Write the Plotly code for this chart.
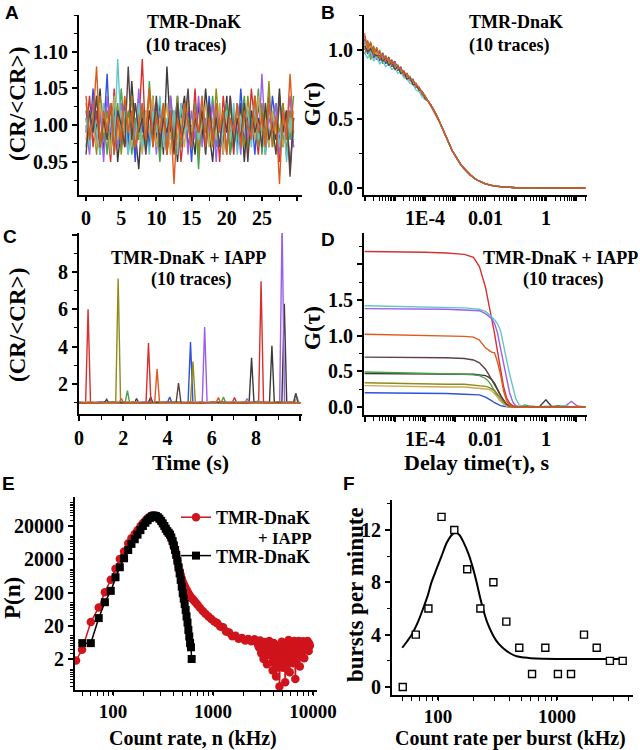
import plotly.graph_objects as go

# ---------------- data ----------------
TRACE_NAMES = ["dark", "red", "blue", "green", "purple", "olive", "gold", "cyan", "brown", "orange"]

# Panel A: normalised count rate, TMR-DnaK (10 traces)
A_time = [0.0,0.5,1.0,1.5,2.0,2.5,3.0,3.5,4.0,4.5,5.0,5.5,6.0,6.5,7.0,7.5,8.0,8.5,9.0,9.5,
          10.0,10.5,11.0,11.5,12.0,12.5,13.0,13.5,14.0,14.5,15.0,15.5,16.0,16.5,17.0,17.5,18.0,18.5,19.0,19.5,
          20.0,20.5,21.0,21.5,22.0,22.5,23.0,23.5,24.0,24.5,25.0,25.5,26.0,26.5,27.0,27.5,28.0,28.5,29.0,29.5]
A_dark = [1.01,0.97,1.03,0.99,1.05,0.96,1.02,0.98,1.04,0.95,1.00,1.03,0.97,1.06,0.99,0.94,1.02,1.01,0.97,1.04,
          0.98,1.03,0.96,1.08,0.99,1.02,0.95,1.01,1.04,0.97,1.00,0.96,1.03,0.98,1.05,0.99,0.95,1.02,1.00,0.97,
          1.04,0.96,1.01,0.98,1.03,0.95,1.02,0.99,1.04,0.97,1.01,0.96,1.03,1.00,0.98,1.05,0.97,1.02,0.94,1.01]
A_red = [0.99,1.04,0.97,1.02,0.96,1.03,1.00,0.95,1.05,0.98,1.02,0.97,1.01,1.04,0.96,1.00,1.09,0.97,1.02,0.99,
         1.03,0.96,1.01,0.98,1.04,0.97,1.02,0.95,1.00,1.03,0.98,1.05,0.96,1.01,0.99,1.03,0.97,1.02,0.95,1.04,
         0.99,1.01,0.96,1.03,0.98,1.02,0.97,1.05,1.00,0.96,1.02,0.99,1.04,0.97,1.01,0.95,1.03,0.98,1.02,0.97]
A_blue = [1.02,0.98,1.05,0.97,1.01,0.99,1.07,0.96,1.02,1.00,0.97,1.03,0.98,1.01,0.95,1.04,0.99,1.02,0.97,1.00,
          1.03,0.98,1.01,0.96,1.02,0.99,1.04,0.97,1.00,1.02,0.95,1.03,0.99,1.01,0.97,1.04,0.98,1.02,1.00,0.96,
          1.03,0.99,1.01,0.97,1.05,0.98,1.00,1.02,0.96,1.03,0.99,1.01,0.97,1.04,1.00,0.98,1.02,0.96,1.01,0.99]
A_green = [0.97,1.02,0.99,1.04,0.98,1.01,0.96,1.03,1.00,0.97,1.05,0.99,1.02,0.96,1.01,0.98,1.03,0.97,1.06,0.99,
           1.01,0.95,1.02,0.98,1.04,1.00,0.96,1.03,0.99,1.01,0.97,1.02,0.94,1.03,1.00,0.98,1.04,0.97,1.01,0.99,
           1.03,0.96,1.02,0.98,1.00,1.04,0.97,1.01,0.99,1.05,0.96,1.02,0.98,1.01,1.03,0.97,1.00,1.02,0.98,1.04]
A_purple = [1.00,0.96,1.03,0.98,1.02,0.95,1.04,0.99,1.01,0.97,1.03,1.00,0.96,1.02,0.98,1.05,0.97,1.01,0.99,1.03,
            0.96,1.02,1.00,0.97,1.04,0.98,1.01,0.99,1.03,0.96,1.02,0.98,1.04,0.97,1.01,0.99,1.03,0.95,1.02,1.00,
            0.97,1.04,0.99,1.01,0.96,1.03,0.98,1.02,1.00,0.97,1.07,0.98,1.01,0.99,1.03,0.96,1.02,0.99,1.04,0.97]
A_olive = [1.03,0.99,1.01,0.96,1.04,0.98,1.02,0.97,1.00,1.03,0.96,1.01,0.99,1.04,0.97,1.02,0.98,1.00,1.05,0.97,
           1.02,0.99,1.03,0.96,1.01,0.98,1.04,0.97,1.02,1.00,0.98,1.03,0.96,1.01,0.99,1.02,0.97,1.05,0.99,1.01,
           0.96,1.03,0.98,1.02,1.00,0.97,1.04,0.99,1.01,0.97,1.03,0.98,1.06,0.97,1.01,0.99,1.03,0.96,1.02,0.98]
A_gold = [0.98,1.02,1.00,0.97,1.03,0.99,1.01,0.96,1.04,0.98,1.02,0.99,1.01,0.97,1.03,1.00,0.96,1.02,0.99,1.04,
          0.97,1.01,0.99,1.03,0.96,1.02,0.98,1.01,0.97,1.04,0.99,1.02,0.98,1.00,1.03,0.97,1.01,0.98,1.03,0.96,
          1.02,1.00,0.97,1.03,0.99,1.01,0.96,1.02,0.98,1.04,0.99,1.01,0.97,1.02,0.99,1.03,0.97,1.01,0.99,1.02]
A_cyan = [1.01,0.97,1.02,0.99,0.96,1.03,0.98,1.01,0.97,1.09,0.99,1.02,0.96,1.01,0.98,1.03,0.97,1.00,0.96,1.02,
          0.99,1.04,0.97,1.01,0.98,1.02,0.96,1.03,0.99,1.00,0.97,1.02,0.98,1.04,0.96,1.01,0.99,1.03,0.97,1.00,
          1.02,0.98,1.03,0.96,1.01,0.99,1.02,0.97,1.04,0.98,1.00,0.96,1.03,0.99,1.01,0.97,1.02,0.95,1.01,0.98]
A_brown = [0.96,1.02,0.99,1.04,0.97,1.01,0.98,1.03,0.96,1.02,1.00,0.97,1.08,0.98,1.03,0.99,1.01,0.96,1.02,0.98,
           1.04,0.97,1.01,0.99,1.02,0.96,1.03,0.98,1.00,1.05,0.97,1.01,0.99,1.02,0.96,1.03,0.98,1.01,0.97,1.02,
           0.99,1.04,0.97,1.01,0.98,1.03,0.95,1.02,0.99,1.01,0.97,1.03,0.98,1.00,0.96,1.04,0.99,1.02,0.93,1.01]
A_orange = [1.04,0.98,1.01,1.08,0.97,1.02,0.99,1.03,0.96,1.01,0.98,1.04,0.99,1.02,0.97,1.00,1.03,0.98,1.05,0.97,
            1.01,0.99,1.03,0.96,1.02,0.92,1.01,0.98,1.03,1.00,0.97,1.02,0.99,1.04,0.97,1.01,0.98,1.03,0.99,1.02,
            0.96,1.01,0.99,1.03,0.97,1.02,1.00,0.98,1.04,0.99,1.01,0.97,1.03,0.99,1.01,0.92,1.02,0.98,1.07,0.99]

# Panel B: autocorrelation, TMR-DnaK (noisy head per trace, common smooth tail)
B_tau_head = [1.0e-6,1.26e-6,1.58e-6,2.0e-6,2.51e-6,3.16e-6,3.98e-6,5.01e-6,6.31e-6,7.94e-6,
              1.0e-5,1.26e-5,1.58e-5,2.0e-5,2.51e-5,3.16e-5,3.98e-5,5.01e-5,6.31e-5,7.94e-5,1.0e-4]
B_dark = [1.08,0.97,1.05,0.94,1.01,0.93,0.97,0.90,0.95,0.88,0.91,0.86,0.87,0.82,0.83,0.78,0.78,0.74,0.73,0.68,0.66]
B_red = [1.00,1.07,0.96,1.02,0.93,0.99,0.92,0.96,0.90,0.93,0.88,0.89,0.84,0.85,0.80,0.80,0.76,0.76,0.71,0.70,0.67]
B_blue = [1.05,0.99,1.04,0.95,1.00,0.92,0.98,0.91,0.94,0.89,0.92,0.85,0.88,0.81,0.83,0.78,0.79,0.73,0.73,0.68,0.66]
B_green = [0.97,1.04,0.93,1.01,0.95,0.96,0.90,0.95,0.89,0.92,0.87,0.89,0.83,0.84,0.80,0.81,0.76,0.75,0.71,0.70,0.65]
B_purple = [1.10,0.98,1.02,0.96,0.99,0.94,0.95,0.92,0.93,0.89,0.90,0.86,0.86,0.82,0.82,0.78,0.77,0.74,0.72,0.69,0.66]
B_olive = [1.02,1.06,0.99,1.03,0.95,1.00,0.93,0.95,0.91,0.91,0.88,0.88,0.85,0.83,0.81,0.80,0.77,0.75,0.72,0.70,0.66]
B_gold = [1.06,1.00,1.03,0.97,0.98,0.95,0.93,0.93,0.90,0.90,0.87,0.87,0.84,0.83,0.80,0.79,0.76,0.74,0.72,0.69,0.65]
B_cyan = [0.98,0.94,0.99,0.92,0.95,0.90,0.92,0.88,0.90,0.86,0.87,0.83,0.84,0.80,0.79,0.76,0.75,0.71,0.70,0.66,0.64]
B_brown = [1.03,0.99,1.01,0.97,0.96,0.96,0.92,0.94,0.89,0.91,0.86,0.88,0.83,0.84,0.79,0.80,0.75,0.75,0.71,0.70,0.65]
B_orange = [1.12,1.01,1.06,0.97,1.02,0.94,0.97,0.93,0.94,0.90,0.91,0.87,0.87,0.83,0.83,0.79,0.78,0.75,0.73,0.69,0.66]
B_tau_tail = [1.26e-4,1.58e-4,2.0e-4,2.51e-4,3.16e-4,3.98e-4,5.01e-4,6.31e-4,7.94e-4,1.0e-3,
              1.26e-3,1.58e-3,2.0e-3,2.51e-3,3.16e-3,5.0e-3,1.0e-2,2.0e-2,5.0e-2,0.1,0.3,1.0,3.0,10.0,20.0]
B_tail = [0.63,0.60,0.56,0.52,0.47,0.42,0.37,0.32,0.27,0.235,
          0.20,0.165,0.14,0.115,0.095,0.06,0.03,0.014,0.005,0.002,0.001,0.0,0.0,0.0,0.0]

# Panel C: normalised count rate, TMR-DnaK + IAPP (time, value per trace)
C_dark_t = [0,0.5,1.0,1.5,2.0,2.5,2.6,2.7,3.0,3.14,3.24,3.34,3.5,4.0,4.5,5.0,5.5,6.0,6.5,7.0,7.5,7.69,7.8,7.91,8.1,8.5,8.61,8.72,8.83,9.0,9.17,9.28,9.39,9.5,10.0]
C_dark_v = [1.01,0.98,1.02,0.99,1.01,0.97,1.22,0.99,1.02,1.00,1.3,0.98,1.01,0.99,1.02,0.97,1.01,0.99,1.02,0.98,1.01,1.00,3.4,0.99,1.02,1.00,1.01,4.05,0.98,1.01,1.00,6.3,0.99,1.02,0.98]
C_red_t = [0,0.3,0.41,0.52,1.0,1.5,2.0,2.5,3.03,3.14,3.25,3.5,4.0,4.5,5.0,5.5,6.0,6.5,6.93,7.03,7.13,7.5,8.0,8.12,8.23,8.34,8.5,9.0,9.5,10.0]
C_red_v = [1.00,0.98,6.0,1.01,0.97,1.02,0.99,1.03,0.98,4.2,1.00,0.97,1.02,0.99,1.01,0.96,1.02,0.99,1.00,1.27,0.98,1.01,0.97,1.00,7.5,1.02,0.98,1.01,0.97,1.00]
C_blue_t = [0,0.5,1.0,1.5,2.0,2.5,3.0,3.5,4.0,4.1,4.2,4.5,4.93,5.04,5.15,5.5,6.0,6.5,7.0,7.5,8.0,8.5,9.0,9.5,10.0]
C_blue_v = [1.02,0.98,1.01,0.97,1.02,0.99,1.01,0.98,1.00,1.3,0.99,1.01,1.00,4.25,0.98,1.02,0.97,1.01,0.99,1.02,0.98,1.01,0.99,1.02,0.98]
C_green_t = [0,0.5,1.0,1.5,2.0,2.09,2.19,2.29,2.5,3.0,3.5,4.0,4.5,5.0,5.5,6.0,6.43,6.53,6.63,7.0,7.5,8.0,8.5,9.0,9.5,9.7,9.8,9.9,10.0]
C_green_v = [1.01,0.97,1.02,0.99,1.00,1.01,1.64,0.98,1.02,0.97,1.01,0.99,1.03,0.98,1.01,0.97,1.00,1.3,0.99,1.02,0.98,1.01,0.97,1.02,0.99,1.00,1.5,1.02,0.98]
C_purple_t = [0,0.5,1.0,1.5,2.0,2.5,3.0,3.5,4.0,4.5,5.0,5.5,5.57,5.68,5.79,6.0,6.5,7.0,7.5,7.6,7.7,8.0,8.5,9.0,9.07,9.18,9.29,9.5,10.0]
C_purple_v = [1.00,0.97,1.02,0.98,1.01,0.99,1.02,0.97,1.01,0.99,1.02,0.98,1.00,5.05,0.99,1.01,0.98,1.02,0.99,1.22,1.00,1.02,0.98,1.01,1.00,10.6,0.99,1.02,0.98]
C_olive_t = [0,0.5,1.0,1.5,1.66,1.77,1.88,2.0,2.5,3.0,3.5,4.0,4.5,5.04,5.15,5.26,5.5,6.0,6.5,7.0,7.5,8.0,8.5,9.0,9.5,10.0]
C_olive_v = [0.99,1.02,0.97,1.01,1.00,7.65,0.99,1.02,0.98,1.01,0.97,1.03,0.99,1.00,3.2,0.98,1.02,0.97,1.01,0.99,1.03,0.98,1.00,1.02,0.97,1.01]
C_gold_t = [0,0.5,1.0,1.5,2.0,2.5,3.0,3.5,4.0,4.5,5.0,5.5,6.0,6.5,7.0,7.5,8.0,8.5,9.0,9.5,10.0]
C_gold_v = [1.00,1.02,0.98,1.01,0.99,1.03,0.97,1.01,1.00,0.98,1.02,0.99,1.01,0.97,1.02,1.00,0.98,1.01,0.99,1.02,1.00]
C_cyan_t = [0,0.5,1.0,1.5,2.0,2.5,3.0,3.5,4.0,4.5,5.0,5.5,6.0,6.5,7.0,7.5,7.98,8.08,8.18,8.5,9.0,9.5,9.75,9.85,9.95]
C_cyan_v = [0.97,1.00,0.98,1.01,0.96,0.99,0.97,1.01,0.98,0.96,1.00,0.97,0.99,0.96,1.01,0.98,0.99,1.1,0.97,1.00,0.96,0.99,1.00,1.3,0.98]
C_brown_t = [0,0.5,1.0,1.15,1.25,1.35,1.5,2.0,2.5,3.0,3.5,4.0,4.39,4.5,4.61,5.0,5.5,6.0,6.5,7.0,7.5,8.0,8.5,9.0,9.5,9.7,9.8,9.9,10.0]
C_brown_v = [0.97,1.01,0.99,1.00,1.18,0.99,1.02,0.98,1.01,0.97,1.02,0.99,1.00,2.05,0.98,1.01,0.97,1.02,0.99,1.01,0.98,1.02,0.99,1.01,0.98,1.00,1.5,1.01,0.99]
C_orange_t = [0,0.5,1.0,1.5,1.82,1.92,2.02,2.5,3.0,3.42,3.53,3.64,4.0,4.5,5.0,5.5,6.0,6.2,6.3,6.4,6.5,7.0,7.5,8.0,8.5,9.0,9.5,10.0]
C_orange_v = [0.98,1.01,0.99,1.02,1.00,1.22,0.98,1.01,0.97,1.00,2.8,0.99,1.02,0.98,1.01,0.99,1.02,1.00,1.27,0.99,1.01,0.98,1.02,0.99,1.01,0.97,1.02,1.00]

# Panel D: autocorrelation, TMR-DnaK + IAPP
D_tau = [1e-6,1e-5,1e-4,5e-4,2e-3,4e-3,6.3e-3,0.01,0.0126,0.0158,0.02,0.025,0.0316,0.04,0.05,0.063,0.08,0.1,
         0.13,0.2,0.35,0.6,1.0,1.6,2.5,4.0,7.0,12.0,20.0]
D_dark = [0.47,0.47,0.47,0.47,0.46,0.46,0.45,0.44,0.42,0.39,0.33,0.25,0.16,0.08,0.03,0.01,0.0,0.0,0.0,0.0,0.01,0.0,0.10,0.0,0.0,0.01,0.0,0.0,0.0]
D_red = [2.18,2.18,2.17,2.16,2.14,2.10,1.97,1.68,1.48,1.26,1.03,0.78,0.52,0.28,0.13,0.05,0.02,0.01,0.005,0.0,0.01,0.0,0.0,0.012,0.0,0.005,0.0,0.01,0.0]
D_blue = [0.20,0.20,0.19,0.19,0.18,0.18,0.17,0.14,0.12,0.09,0.06,0.04,0.02,0.01,0.0,0.0,0.0,0.0,0.0,0.0,0.0,0.0,0.0,0.0,0.0,0.0,0.0,0.0,0.0]
D_green = [0.49,0.48,0.48,0.47,0.46,0.45,0.44,0.40,0.36,0.30,0.22,0.15,0.09,0.05,0.02,0.0,0.0,0.0,0.0,0.03,0.0,0.0,0.0,0.0,0.02,0.0,0.0,0.0,0.0]
D_purple = [1.38,1.38,1.37,1.37,1.36,1.36,1.35,1.31,1.28,1.24,1.17,1.04,0.82,0.60,0.38,0.20,0.07,0.02,0.0,0.005,0.0,0.0,0.01,0.0,0.0,0.0,0.08,0.0,0.0]
D_olive = [0.34,0.33,0.33,0.32,0.32,0.31,0.30,0.29,0.28,0.26,0.23,0.18,0.12,0.06,0.02,0.0,0.0,0.0,0.0,0.0,0.0,0.0,0.0,0.0,0.0,0.0,0.0,0.0,0.0]
D_gold = [0.30,0.29,0.29,0.28,0.28,0.27,0.27,0.26,0.25,0.23,0.19,0.14,0.08,0.04,0.01,0.0,0.0,0.0,0.0,0.0,0.0,0.0,0.0,0.0,0.0,0.0,0.0,0.0,0.0]
D_cyan = [1.42,1.41,1.41,1.40,1.39,1.38,1.37,1.34,1.31,1.27,1.22,1.17,1.07,0.88,0.66,0.46,0.27,0.12,0.03,0.0,0.005,0.0,0.01,0.0,0.0,0.02,0.0,0.0,0.005]
D_brown = [0.70,0.70,0.69,0.69,0.68,0.66,0.62,0.53,0.46,0.38,0.31,0.24,0.16,0.09,0.04,0.01,0.0,0.0,0.0,0.005,0.0,0.0,0.0,0.0,0.0,0.0,0.0,0.0,0.0]
D_orange = [1.02,1.01,1.01,1.00,0.99,0.98,0.94,0.83,0.80,0.77,0.76,0.63,0.45,0.22,0.09,0.02,0.0,0.0,0.005,0.0,0.01,0.0,0.0,0.0,0.01,0.0,0.0,0.005,0.0]

# Panel E: photon counting histograms
E_iapp_n = [37,42.7,49,60,72,83,95,106,117,129,142,153,165,176,188,199,211,222,234,245,
            257,268,280,291,303,314,326,337,349,360,372,383,395,406,418,429,441,452,464,475,
            487,498,510,525,545,565,590,615,640,670,700,740,790,840,900,960,1030,1100,1180,1260,
            1350,1450,1560,1680,1800,1950,2100,2250,2420,2600,2750,
            2800,2840,2880,2920,2960,3000,3040,3080,3120,3160,3200,3250,3290,3340,3380,3430,3470,3520,3560,3610,
            3650,3700,3750,3800,3850,3900,3950,4000,4050,4100,4160,4210,4270,4320,4380,4440,4500,4560,4620,4680,
            4740,4800,4870,4930,5000,5060,5130,5200,5270,5340,5410,5480,5550,5620,5700,5770,5850,5920,6000,6080,
            6160,6240,6320,6400,6490,6570,6660,6740,6830,6920,7010,7100,7190,7280,7380,7470,7570,7670,7770,7870,
            7970,8070,8180,8280,8390,8500,8610,8720,8830,8940,9060,9180,9300]
E_iapp_P = [1.2,1.8,3.8,26,71,205,480,1030,2050,3400,6000,8500,11500,15000,19500,24000,29000,34000,38000,41000,
            42000,40000,37000,33000,29000,24500,20500,17000,14500,12500,10500,8500,6600,4900,3600,2600,1800,1250,900,680,
            530,430,360,300,240,195,160,135,118,100,86,70,56,46,38,32,27,24,19,18,
            13.5,12.5,9.6,10,8.2,8.5,7.2,8.0,6.8,7.8,6.5,
            6.8,5.2,4.5,6.0,7.2,4.0,3.0,5.1,5.8,3.6,2.0,4.6,6.5,5.0,3.8,2.6,1.4,3.9,5.2,6.3,
            7.0,4.8,2.6,3.5,4.4,1.6,0.9,2.9,6.1,4.2,3.2,1.7,0.6,1.1,1.8,3.3,5.0,2.1,0.3,1.2,
            2.4,4.4,6.6,3.7,1.1,2.3,3.6,1.8,0.4,1.3,4.8,3.1,2.0,4.4,7.4,3.9,0.8,1.9,3.0,4.1,
            5.6,2.7,1.5,3.4,6.9,4.0,0.5,1.6,2.8,3.6,4.2,5.9,7.0,4.6,1.2,2.6,5.4,3.8,3.3,5.1,
            6.8,4.2,2.1,3.7,6.0,4.9,4.0,5.5,7.0,4.8,3.5,5.8,5.0]
E_dnak_n = [49.3,60,72,83,95,106,117,129,142,153,165,176,188,199,211,222,234,245,257,268,
            280,291,303,314,326,337,349,360,372,383,395,406,418,429,441,452,464,475,487,498,
            510,521,533,544,556,567,579,590,602,612]
E_dnak_P = [6,6,34,102,224,575,1150,2140,3800,5800,8000,11000,15000,20000,25000,30000,35000,39000,41000,40000,
            37000,33000,28500,24000,20000,16500,14000,12500,11000,9000,7000,5200,3800,2700,1800,1150,750,480,300,190,
            130,90,60,38,25,15,9.5,6,4.5,2]

# Panel F: burst-size distribution and fit
F_rate = [50.5,65,83,107,137,176,227,292,375,482,617,798,1018,1312,1687,2157,2786,3565]
F_bursts = [0,4,6,13,12,9,6,8,5,3,1,3,1,1,4,3,2,2]
F_fit_rate = [50,55,60,68,75,82,88,97,107,118,130,140,152,165,180,195,211,225,240,260,
              292,320,355,400,458,530,600,750,1000,1500,2000,3000,3600]
F_fit_bursts = [3.0,3.5,4.0,5.0,6.0,7.0,8.0,9.0,10.0,11.0,11.6,11.8,11.6,11.0,10.2,9.2,8.0,6.9,5.9,4.9,
                3.9,3.35,2.95,2.6,2.35,2.25,2.2,2.16,2.15,2.15,2.15,2.15,2.15]

# ---------------- styling ----------------
COLORS = {"dark": "#3a3a3a", "red": "#d63030", "blue": "#3050e0", "green": "#48a048",
          "purple": "#9b5fe8", "olive": "#8f8c1c", "gold": "#c8aa55", "cyan": "#62c6c6",
          "brown": "#5a4242", "orange": "#dd5a1c"}
W, H = 640, 750
SERIF = "Liberation Serif"
SANS = "Liberation Sans"


def pxx(x):
    return x / W


def pxy(y):
    return 1 - y / H


DOM = {1: ((79, 302), (15, 195)), 2: ((364, 587), (15, 195)),
       3: ((79, 302), (233, 414)), 4: ((364, 587), (233, 415)),
       5: ((75, 317), (497, 690)), 6: ((392, 633), (500, 695))}

fig = go.Figure()
G = globals()

# A
for nm in TRACE_NAMES:
    fig.add_trace(go.Scatter(x=A_time, y=G["A_" + nm], mode="lines", xaxis="x", yaxis="y",
                             line=dict(color=COLORS[nm], width=1.4), showlegend=False, hoverinfo="skip"))
# B
for nm in TRACE_NAMES:
    fig.add_trace(go.Scatter(x=B_tau_head + B_tau_tail, y=G["B_" + nm] + B_tail, mode="lines",
                             xaxis="x2", yaxis="y2", line=dict(color=COLORS[nm], width=1.3),
                             showlegend=False, hoverinfo="skip"))
# C
for nm in TRACE_NAMES:
    fig.add_trace(go.Scatter(x=G["C_%s_t" % nm], y=G["C_%s_v" % nm], mode="lines", xaxis="x3", yaxis="y3",
                             line=dict(color=COLORS[nm], width=1.4), showlegend=False, hoverinfo="skip"))
# D
for nm in TRACE_NAMES:
    fig.add_trace(go.Scatter(x=D_tau, y=G["D_" + nm], mode="lines", xaxis="x4", yaxis="y4",
                             line=dict(color=COLORS[nm], width=1.4), showlegend=False, hoverinfo="skip"))
# E
fig.add_trace(go.Scatter(x=E_iapp_n, y=E_iapp_P, mode="lines+markers", xaxis="x5", yaxis="y5",
                         name="<b>TMR-DnaK</b>", legendgroup="iapp",
                         line=dict(color="#d0141c", width=1.5),
                         marker=dict(symbol="circle", size=8.5, color="#d0141c"), hoverinfo="skip"))
fig.add_trace(go.Scatter(x=E_dnak_n, y=E_dnak_P, mode="lines+markers", xaxis="x5", yaxis="y5",
                         name="<b>TMR-DnaK</b>", legendgroup="dnak",
                         line=dict(color="black", width=1.5),
                         marker=dict(symbol="square", size=8, color="black"), hoverinfo="skip"))
# F
fig.add_trace(go.Scatter(x=F_fit_rate, y=F_fit_bursts, mode="lines", xaxis="x6", yaxis="y6",
                         line=dict(color="black", width=2, shape="spline", smoothing=0.6),
                         showlegend=False, hoverinfo="skip"))
fig.add_trace(go.Scatter(x=F_rate, y=F_bursts, mode="markers", xaxis="x6", yaxis="y6",
                         marker=dict(symbol="square", size=7, color="white", line=dict(color="black", width=1.4)),
                         showlegend=False, hoverinfo="skip"))

TICKFONT = dict(family=SERIF, size=20, color="black", weight="bold")
TICKFONT_S = dict(family=SERIF, size=19, color="black", weight="bold")


def minor(dtick, tick0=None):
    m = dict(ticks="outside", ticklen=3.5, tickwidth=1.2, tickcolor="black", showgrid=False, dtick=dtick)
    if tick0 is not None:
        m["tick0"] = tick0
    return m


def axis(i, letter, **kw):
    (x0, x1), (y0, y1) = DOM[i]
    suffix = "" if i == 1 else str(i)
    if letter == "x":
        d = dict(domain=[pxx(x0), pxx(x1)], anchor="y" + suffix)
    else:
        d = dict(domain=[pxy(y1), pxy(y0)], anchor="x" + suffix)
    d.update(showline=True, linecolor="black", linewidth=2, ticks="outside", ticklen=5, tickwidth=1.5,
             tickcolor="black", showgrid=False, zeroline=False, tickfont=TICKFONT, fixedrange=True,
             tickmode="array", automargin=False)
    d.update(kw)
    return d


LOGT = [1e-6, 1e-5, 1e-4, 1e-3, 1e-2, 1e-1, 1, 10]
LOGT_TXT = ["", "", "1E-4", "", "0.01", "", "1", ""]

fig.update_layout(
    template="none",
    xaxis=axis(1, "x", range=[-1, 30.7], tickvals=[0, 5, 10, 15, 20, 25, 30],
               ticktext=["0", "5", "10", "15", "20", "25", ""], minor=minor(2.5, 0), ticklen=4),
    yaxis=axis(1, "y", range=[0.905, 1.15], tickvals=[0.95, 1.0, 1.05, 1.1],
               ticktext=["0.95", "1.00", "1.05", "1.10"], minor=minor(0.025, 0.9)),
    xaxis2=axis(2, "x", type="log", range=[-6.02, 1.36], tickvals=LOGT, ticktext=LOGT_TXT, minor=minor("D1"),
                ticklen=4),
    yaxis2=axis(2, "y", range=[-0.0507, 1.254], tickvals=[0, 0.5, 1.0], ticktext=["0.0", "0.5", "1.0"],
                minor=minor(0.25, 0)),
    xaxis3=axis(3, "x", range=[0, 10.08], tickvals=[0, 2, 4, 6, 8, 10], ticktext=["0", "2", "4", "6", "8", ""],
                minor=minor(1, 0)),
    yaxis3=axis(3, "y", range=[0.39, 10.09], tickvals=[2, 4, 6, 8, 10], ticktext=["2", "4", "6", "8", ""],
                minor=minor(1, 0)),
    xaxis4=axis(4, "x", type="log", range=[-6.02, 1.36], tickvals=LOGT, ticktext=LOGT_TXT, minor=minor("D1")),
    yaxis4=axis(4, "y", range=[-0.112, 2.44], tickvals=[0, 0.5, 1.0, 1.5, 2.0],
                ticktext=["0.0", "0.5", "1.0", "1.5", ""], minor=minor(0.25, 0)),
    xaxis5=axis(5, "x", type="log", range=[1.62, 4.04], tickvals=[100, 1000, 10000],
                ticktext=["100", "1000", "10000"], minor=minor("D1"), tickfont=TICKFONT_S, ticklen=3),
    yaxis5=axis(5, "y", type="log", range=[-0.631, 5.173], tickvals=[2, 20, 200, 2000, 20000],
                ticktext=["2", "20", "200", "2000", "20000"], minor=minor("D1")),
    xaxis6=axis(6, "x", type="log", range=[1.613, 3.639], tickvals=[100, 1000],
                ticktext=["100", "1000"], minor=minor("D1"), tickfont=TICKFONT_S, ticklen=3),
    yaxis6=axis(6, "y", range=[-0.61, 14.29], tickvals=[0, 4, 8, 12], ticktext=["0", "4", "8", "12"],
                minor=minor(2, 0)),
)

ann = []


def text(s, x, y, size, family=SERIF, angle=0, xanchor="center"):
    ann.append(dict(text=s, x=pxx(x), y=pxy(y), xref="paper", yref="paper", showarrow=False,
                    xanchor=xanchor, yanchor="middle", textangle=angle,
                    font=dict(family=family, size=size, color="black")))


# panel letters
for L, x, y in [("A", 12, 12), ("B", 328, 12), ("C", 10, 236), ("D", 328, 239), ("E", 8, 483), ("F", 349, 483)]:
    text("<b>%s</b>" % L, x, y, 19, SANS)
# in-panel labels
text("<b>TMR-DnaK</b>", 194, 22, 18)
text("<b>(10 traces)</b>", 186, 45, 18)
text("<b>TMR-DnaK</b>", 516, 22, 18)
text("<b>(10 traces)</b>", 509, 45, 18)
text("<b>TMR-DnaK + IAPP</b>", 188, 258, 18)
text("<b>(10 traces)</b>", 191, 280, 18)
text("<b>TMR-DnaK + IAPP</b>", 560, 258, 18)
text("<b>(10 traces)</b>", 563, 280, 18)
# second line of the first legend entry in E
text("<b>+ IAPP</b>", 314, 538, 17, xanchor="right")
# axis titles
text("<b>(CR/&lt;CR&gt;)</b>", 17, 104, 23, angle=-90)
text("<b>G(τ)</b>", 312, 104, 23, angle=-90)
text("<b>(CR/&lt;CR&gt;)</b>", 17, 325, 23, angle=-90)
text("<b>G(τ)</b>", 312, 328, 23, angle=-90)
text("<b>P(n)</b>", 12, 598, 23, angle=-90)
text("<b>bursts per minute</b>", 355, 595, 23, angle=-90)
text("<b>Time (s)</b>", 190, 462, 22)
text("<b>Delay time(τ), s</b>", 477, 463, 22)
text("<b>Count rate, n (kHz)</b>", 193, 738, 20)
text("<b>Count rate per burst (kHz)</b>", 510, 738, 20)

fig.update_layout(
    width=W, height=H, margin=dict(l=0, r=0, t=0, b=0, pad=0),
    paper_bgcolor="white", plot_bgcolor="white",
    annotations=ann,
    showlegend=True,
    legend=dict(x=pxx(176), y=pxy(499), xanchor="left", yanchor="top", bgcolor="rgba(0,0,0,0)",
                font=dict(family=SERIF, size=18, color="black"), tracegroupgap=12,
                itemwidth=30, borderwidth=0),
)

fig.write_html("out.html", config={"displayModeBar": False},
               post_script="document.body.style.margin='0';")
